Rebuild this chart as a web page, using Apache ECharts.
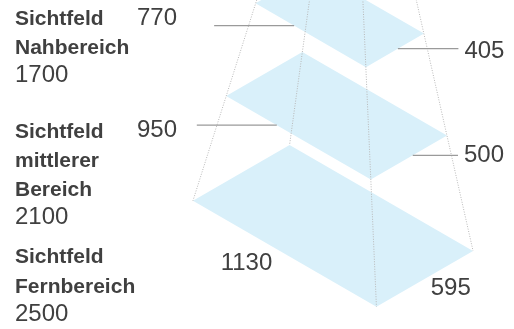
<!DOCTYPE html>
<html><head><meta charset="utf-8">
<script src="https://cdn.jsdelivr.net/npm/echarts@6/dist/echarts.min.js"></script>
<style>html,body{margin:0;padding:0;background:#fff}#c{width:514px;height:329px}</style>
</head><body><div id="c"></div>
<script>
// ---------------- data ----------------
const categories = ['Nahbereich', 'mittlerer Bereich', 'Fernbereich'];
const categoryLines = [['Sichtfeld', 'Nahbereich'], ['Sichtfeld', 'mittlerer', 'Bereich'], ['Sichtfeld', 'Fernbereich']];
const distances = [1700, 2100, 2500];   // mm
const widths = [770, 950, 1130];        // mm
const heights = [405, 500, 595];        // mm

// ---------------- layout / projection (not data) ----------------
const PX_PER_MM = 0.1875;               // pixel scale at the reference plane
const APEX_PX = [349.9, -293.2];        // where the apex of the view pyramid lands
const AXIS_DIR = [-0.03605, -1.1072];   // projected view axis per mm of distance (data units, y up)
const COS = Math.cos(Math.PI / 6), SIN = Math.sin(Math.PI / 6);
const CAMERA = 8547;                    // perspective camera distance from apex
const dRef = Math.max(...distances);
function project(a, b, d) {
  const p = (CAMERA - dRef) / (CAMERA - d);
  return [p * (d * AXIS_DIR[0] + a * COS + b * COS),
          p * (d * AXIS_DIR[1] - a * SIN + b * SIN)];
}
function corners(i) {
  const d = distances[i], a = widths[i] / 2, b = heights[i] / 2;
  return [project(-a, -b, d), project(-a, b, d), project(a, b, d), project(a, -b, d)]; // L,T,R,B
}

const PLANE_COLOR = '#d9f0fa';
const TEXT_COLOR = '#404040';
const FONT = '"Liberation Sans", Arial, Helvetica, sans-serif';
const BOLD_SIZE = 21, NUM_SIZE = 24;
const LEFT_X = 15;
const GROUP_BASELINE = [26.7, 139.3, 265];
const LINE_STEP = 29.3, NUM_STEP = 28;
const WIDTH_LABEL = [[137, 26.7], [137, 138.3], [220.7, 271.7]];   // [x, baseline]
const HEIGHT_LABEL = [[464.4, 60], [464, 163.3], [430.7, 296.7]];
const HAS_LEADER = [true, true, false];
const LEFT_LEADER_T = 0.35, LEFT_LEADER_LEN = 80;
const RIGHT_LEADER_T = 0.55, RIGHT_LEADER_GAP = 6;

const chart = echarts.init(document.getElementById('c'), null, {renderer: 'canvas'});
const W = chart.getWidth(), H = chart.getHeight();

function txt(text, x, baseline, size, bold) {
  return {type: 'text', x: x, y: baseline - 0.35 * size,
    style: {text: text, fill: TEXT_COLOR, fontFamily: FONT, fontSize: size,
      fontWeight: bold ? 'bold' : 'normal', align: 'left', verticalAlign: 'middle'}};
}
function lerp(p, q, t) { return [p[0] + (q[0] - p[0]) * t, p[1] + (q[1] - p[1]) * t]; }

const rows = categories.map((c, i) => [i, distances[i], widths[i], heights[i]]);

chart.setOption({
  animation: false,
  grid: {left: 0, right: 0, top: 0, bottom: 0},
  xAxis: {type: 'value', show: false, min: -APEX_PX[0] / PX_PER_MM, max: (W - APEX_PX[0]) / PX_PER_MM},
  yAxis: {type: 'value', show: false, min: (APEX_PX[1] - H) / PX_PER_MM, max: APEX_PX[1] / PX_PER_MM},
  series: [
    { // planes
      type: 'custom', coordinateSystem: 'cartesian2d', data: rows, z: 1, silent: true,
      renderItem: function (params, api) {
        const i = api.value(0);
        const pts = corners(i).map(p => api.coord(p));
        return {type: 'polygon', shape: {points: pts}, style: {fill: PLANE_COLOR}};
      }
    },
    { // dotted pyramid edges
      type: 'custom', coordinateSystem: 'cartesian2d', data: [[distances.indexOf(dRef)]], z: 2, silent: true,
      renderItem: function (params, api) {
        const i = api.value(0);
        const apex = api.coord([0, 0]);
        const children = corners(i).map(p => {
          const c = api.coord(p);
          return {type: 'line', shape: {x1: apex[0], y1: apex[1], x2: c[0], y2: c[1]},
            style: {stroke: '#b8b8b8', lineWidth: 1, lineDash: [1, 1.5]}};
        });
        return {type: 'group', children: children};
      }
    },
    { // labels and leaders
      type: 'custom', coordinateSystem: 'cartesian2d', data: rows, z: 3, silent: true,
      renderItem: function (params, api) {
        const i = api.value(0);
        const children = [];
        const lines = categoryLines[i];
        let y = GROUP_BASELINE[i];
        lines.forEach((t, j) => { children.push(txt(t, LEFT_X, y, BOLD_SIZE, true)); if (j < lines.length - 1) y += LINE_STEP; });
        children.push(txt(String(distances[i]), LEFT_X, y + NUM_STEP, NUM_SIZE, false));
        children.push(txt(String(widths[i]), WIDTH_LABEL[i][0], WIDTH_LABEL[i][1], NUM_SIZE, false));
        children.push(txt(String(heights[i]), HEIGHT_LABEL[i][0], HEIGHT_LABEL[i][1], NUM_SIZE, false));
        if (HAS_LEADER[i]) {
          const c = corners(i).map(p => api.coord(p));
          const pl = lerp(c[0], c[3], LEFT_LEADER_T);
          const pr = lerp(c[3], c[2], RIGHT_LEADER_T);
          const ls = {stroke: '#9a9a9a', lineWidth: 1.2};
          children.push({type: 'line', shape: {x1: pl[0] - LEFT_LEADER_LEN, y1: pl[1], x2: pl[0], y2: pl[1]}, style: ls});
          children.push({type: 'line', shape: {x1: pr[0], y1: pr[1], x2: HEIGHT_LABEL[i][0] - RIGHT_LEADER_GAP, y2: pr[1]}, style: ls});
        }
        return {type: 'group', children: children};
      }
    }
  ]
});
</script></body></html>
